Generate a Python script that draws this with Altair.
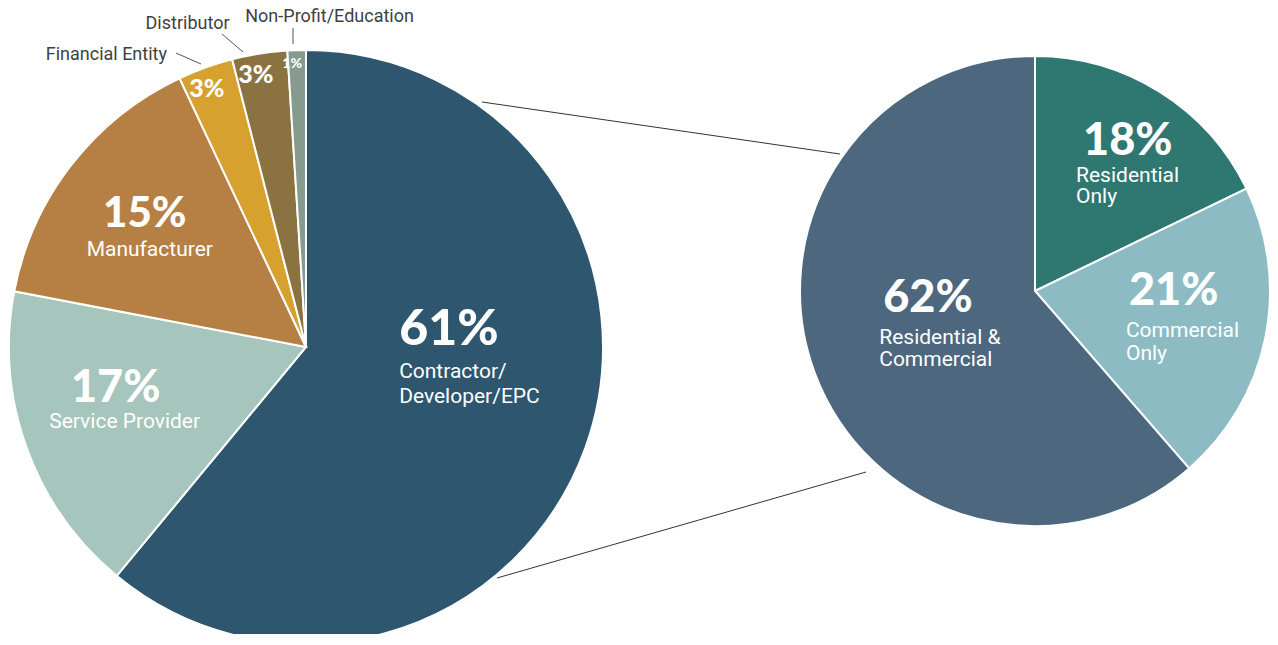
import altair as alt
import pandas as pd

# ---- data ----
left_categories = ["Contractor/Developer/EPC", "Service Provider", "Manufacturer",
                   "Financial Entity", "Distributor", "Non-Profit/Education"]
left_values = [61, 17, 15, 3, 3, 1]
left_names = ["Contractor/\nDeveloper/EPC", "Service Provider", "Manufacturer",
              "Financial Entity", "Distributor", "Non-Profit/Education"]
left_colors = ["#2E566F", "#A5C5BD", "#B68044", "#D6A12E", "#8A7340", "#879A8E"]

right_categories = ["Residential Only", "Commercial Only", "Residential & Commercial"]
right_values = [18, 21, 62]
right_names = ["Residential\nOnly", "Commercial\nOnly", "Residential &\nCommercial"]
right_colors = ["#2F7872", "#8DBBC3", "#4C677E"]


def make_df(cats, vals, names):
    return pd.DataFrame({
        "idx": list(range(len(cats))),
        "cat": cats,
        "value": vals,
        "name": names,
        "pct": [f"{v}%" for v in vals],
    })


left_df = make_df(left_categories, left_values, left_names)
right_df = make_df(right_categories, right_values, right_names)

color_scale = alt.Scale(domain=left_categories + right_categories,
                        range=left_colors + right_colors)

PCT_FONT = "Lato"
NAME_FONT = "Roboto"


def base(df, cx, cy):
    return alt.Chart(df).encode(
        theta=alt.Theta("value:Q", stack=True),
        order=alt.Order("idx:Q"),
        x=alt.value(cx),
        y=alt.value(cy),
    )


def arcs(df, cx, cy, r):
    return base(df, cx, cy).mark_arc(outerRadius=r, stroke="white", strokeWidth=2).encode(
        color=alt.Color("cat:N", scale=color_scale, legend=None)
    )


def label(df, cx, cy, cat, field, r, dx, dy, size, align="center", weight=400,
          font=NAME_FONT, color="white", line_height=None):
    kw = dict(radius=r, dx=dx, dy=dy, fontSize=size, align=align, baseline="alphabetic",
              fontWeight=weight, font=font, color=color, lineBreak="\n")
    if line_height is not None:
        kw["lineHeight"] = line_height
    return base(df, cx, cy).transform_calculate(
        lbl=f"datum.cat == '{cat}' ? datum.{field} : ''"
    ).mark_text(**kw).encode(text="lbl:N", detail="cat:N")


LCX, LCY, LR = 298, 339, 297
RCX, RCY, RR = 1027, 283, 235

L = left_categories
left_layer = alt.layer(
    arcs(left_df, LCX, LCY, LR),
    # Contractor
    label(left_df, LCX, LCY, L[0], "pct", 150, -48, -53, 50, "left", 900, PCT_FONT),
    label(left_df, LCX, LCY, L[0], "name", 150, -48, -20, 21, "left", line_height=25),
    # Service Provider
    label(left_df, LCX, LCY, L[1], "pct", 180, -21, -6, 45, "center", 900, PCT_FONT),
    label(left_df, LCX, LCY, L[1], "name", 180, -12, 20, 21, "center"),
    # Manufacturer
    label(left_df, LCX, LCY, L[2], "pct", 180, -19, -10, 42, "center", 900, PCT_FONT),
    label(left_df, LCX, LCY, L[2], "name", 180, -14, 19, 21, "center"),
    # small slices inside
    label(left_df, LCX, LCY, L[3], "pct", 260, -11, -5, 25, "center", 900, PCT_FONT),
    label(left_df, LCX, LCY, L[4], "pct", 270, -8, 3, 25, "center", 900, PCT_FONT),
    label(left_df, LCX, LCY, L[5], "pct", 280, -5, 1, 14, "center", 900, PCT_FONT),
    # outside labels
    label(left_df, LCX, LCY, L[3], "name", 310, -34, 5, 18, "right", color="#3F3F3F"),
    label(left_df, LCX, LCY, L[4], "name", 310, -28, -12, 18, "right", color="#3F3F3F"),
    label(left_df, LCX, LCY, L[5], "name", 310, -51, -15, 18, "left", color="#3F3F3F"),
)

R = right_categories
right_layer = alt.layer(
    arcs(right_df, RCX, RCY, RR),
    label(right_df, RCX, RCY, R[0], "pct", 130, -21, -26, 45, "left", 900, PCT_FONT),
    label(right_df, RCX, RCY, R[0], "name", 130, -28, 1, 21, "left", line_height=21),
    label(right_df, RCX, RCY, R[1], "pct", 150, -53, -16, 45, "left", 900, PCT_FONT),
    label(right_df, RCX, RCY, R[1], "name", 150, -56, 16, 21, "left", line_height=23),
    label(right_df, RCX, RCY, R[2], "pct", 130, -30, -25, 45, "left", 900, PCT_FONT),
    label(right_df, RCX, RCY, R[2], "name", 130, -34, 7, 21, "left", line_height=22),
)

dummy = pd.DataFrame({"a": [0]})


def rule(x1, y1, x2, y2, color="#333333", w=1):
    return alt.Chart(dummy).mark_rule(color=color, strokeWidth=w).encode(
        x=alt.value(x1), y=alt.value(y1), x2=alt.value(x2), y2=alt.value(y2)
    )


lines = alt.layer(
    rule(474, 94, 832, 146),
    rule(489, 570, 858, 464),
    rule(168, 45, 193, 56, "#555555"),
    rule(214, 26, 235, 44, "#555555"),
    rule(285, 20, 285, 36, "#555555"),
)

chart = alt.layer(left_layer, right_layer, lines).resolve_scale(
    theta="independent"
).properties(
    width=1262, height=626, padding=0,
    autosize=alt.AutoSizeParams(type="none"),
).configure_view(stroke=None)

chart.save("out.html", embed_options={"renderer": "svg", "actions": False})
